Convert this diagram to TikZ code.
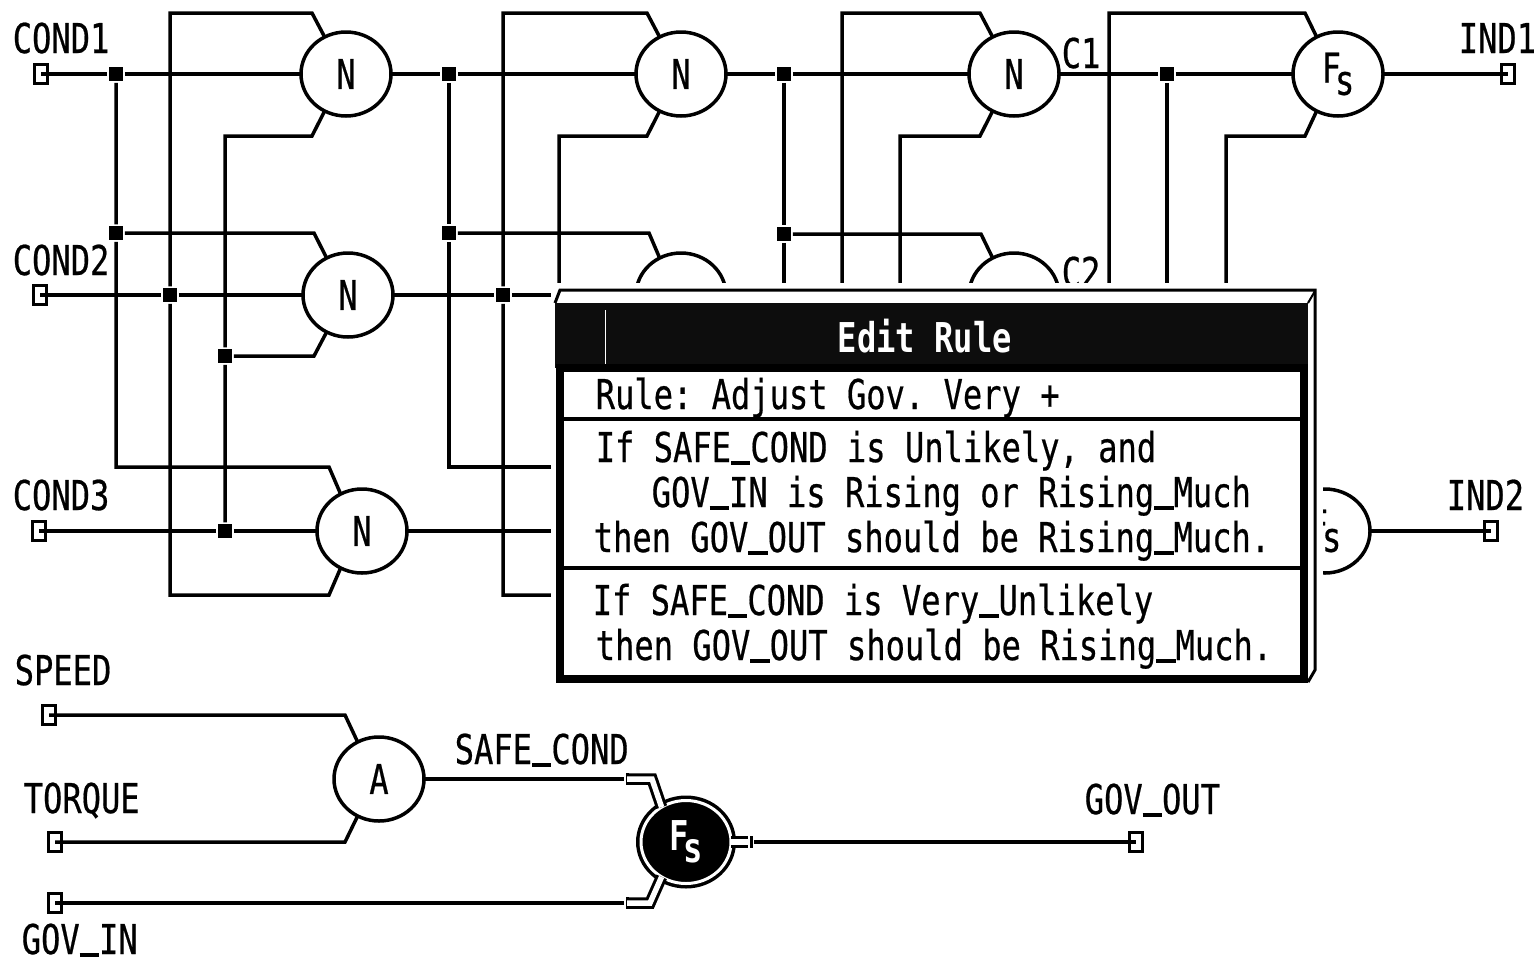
\documentclass[tikz,border=0pt]{standalone}
\usepackage{fontspec}
\usepackage{graphicx}
\usetikzlibrary{shapes.geometric}
\newfontfamily\bitfont[FakeBold=0.6]{DejaVu Sans Mono}
\newfontfamily\bitbold{DejaVu Sans Mono Bold}
\newcommand{\bitsize}{\fontsize{32.1}{38}\selectfont\frenchspacing}
\newcommand{\tall}[1]{\scalebox{1}[1.28]{#1}}
\newcommand{\fsub}{\tall{F\kern-6pt\raisebox{-9.5pt}{s}}}
\newcommand{\us}{\rule[-2.2pt]{19.33pt}{3.2pt}}
\tikzset{
    lbl/.style={font=\bitfont\bitsize, anchor=base west, inner sep=0pt, yscale=1.28, transform shape},
    gate/.style={ellipse, draw, fill=white, minimum width=90pt, minimum height=84pt, inner sep=0pt, outer sep=0pt, font=\bitfont\bitsize},
    fgate/.style={ellipse, draw, fill=black, double=white, double distance=3pt, minimum width=90pt, minimum height=83pt, inner sep=0pt, outer sep=0pt, text=white, font=\bitbold\bitsize},
    term/.style={rectangle, draw, line width=2.5pt, minimum width=13pt, minimum height=19pt, inner sep=0pt},
    jn/.style={rectangle, fill=black, minimum size=14pt, inner sep=0pt},
    stubcap/.style={rectangle, fill=black, minimum width=3pt, minimum height=12pt, inner sep=0pt},
    dbl/.style={line width=3pt, double=white, double distance=5.5pt}
}
\begin{document}
\begin{tikzpicture}[x=1pt,y=-1pt,line width=3.5pt]
    \useasboundingbox (0,0) rectangle (1538,959);

    % Ingressi e uscite
    \node[term] (tcond1) at (41,74) {};
    \node[term] (tcond2) at (40,295) {};
    \node[term] (tcond3) at (39,531) {};
    \node[term] (tind1) at (1508,74) {};
    \node[term] (tind2) at (1491,531) {};
    \node[term] (tspeed) at (49,715) {};
    \node[term] (ttorque) at (55,842) {};
    \node[term] (tgovin) at (55,903) {};
    \node[term] (tgovout) at (1136,842) {};

    % Porte
    \node[gate] (g1) at (346,74) {\tall{N}};
    \node[gate] (g2) at (348,295) {\tall{N}};
    \node[gate] (g3) at (362,531) {\tall{N}};
    \node[gate] (g4) at (681,74) {\tall{N}};
    \node[gate] (g5) at (681,295) {};
    \node[gate] (g6) at (1014,74) {\tall{N}};
    \node[gate] (g7) at (1014,295) {};
    \node[gate] (g8) at (1338,74) {\fsub};
    \node[gate] (g9) at (1325,531) {\fsub};
    \node[gate] (ga) at (379,779) {\tall{A}};
    \node[fgate] (gf) at (686,842) {\fsub};

    % Nodi di giunzione
    \node[jn] (j11) at (116,74) {};
    \node[jn] (j12) at (116,233) {};
    \node[jn] (j13) at (170,295) {};
    \node[jn] (j14) at (225,356) {};
    \node[jn] (j15) at (225,531) {};
    \node[jn] (j21) at (449,74) {};
    \node[jn] (j22) at (449,233) {};
    \node[jn] (j23) at (503,295) {};
    \node[jn] (j31) at (784,74) {};
    \node[jn] (j32) at (784,234) {};
    \node[jn] (j41) at (1167,74) {};

    % Prima colonna
    \coordinate (c1a) at (116,467);
    \coordinate (k3t) at (329,467);
    \coordinate (c1b) at (170,13);
    \coordinate (k1t) at (312,13);
    \coordinate (c1c) at (170,595);
    \coordinate (k3b) at (329,595);
    \coordinate (c1d) at (225,136);
    \coordinate (k1b) at (312,136);
    \coordinate (k2t) at (314,233);
    \coordinate (k2b) at (314,356);
    \draw (tcond1.center) -- (j11) -- (g1.west);
    \draw (tcond2.center) -- (j13) -- (g2.west);
    \draw (tcond3.center) -- (j15) -- (g3.west);
    \draw (j11) -- (j12) -- (c1a) -- (k3t) -- (g3.120);
    \draw (j12) -- (k2t) -- (g2.120);
    \draw (g1.120) -- (k1t) -- (c1b) -- (j13) -- (c1c) -- (k3b) -- (g3.240);
    \draw (g1.240) -- (k1b) -- (c1d) -- (j14) -- (j15);
    \draw (j14) -- (k2b) -- (g2.240);

    % Seconda colonna
    \coordinate (c2a) at (449,467);
    \coordinate (e2a) at (551,467);
    \coordinate (c2b) at (503,13);
    \coordinate (k4t) at (647,13);
    \coordinate (c2c) at (503,595);
    \coordinate (e2c) at (551,595);
    \coordinate (c2d) at (559,136);
    \coordinate (k4b) at (647,136);
    \coordinate (e2d) at (559,283);
    \coordinate (k5t) at (649,233);
    \coordinate (e2e) at (551,295);
    \coordinate (e2f) at (551,531);
    \draw (g1.east) -- (j21) -- (g4.west);
    \draw (j21) -- (j22) -- (c2a) -- (e2a);
    \draw (j22) -- (k5t) -- (g5.120);
    \draw (g4.120) -- (k4t) -- (c2b) -- (j23) -- (c2c) -- (e2c);
    \draw (g2.east) -- (j23) -- (e2e);
    \draw (g4.240) -- (k4b) -- (c2d) -- (e2d);
    \draw (g3.east) -- (e2f);

    % Terza colonna
    \coordinate (e3a) at (784,283);
    \coordinate (c3b) at (842,13);
    \coordinate (k6t) at (980,13);
    \coordinate (e3b) at (842,283);
    \coordinate (c3c) at (900,136);
    \coordinate (k6b) at (980,136);
    \coordinate (e3c) at (900,283);
    \coordinate (k7t) at (981,234);
    \draw (g4.east) -- (j31) -- (g6.west);
    \draw (j31) -- (j32) -- (e3a);
    \draw (j32) -- (k7t) -- (g7.120);
    \draw (g6.120) -- (k6t) -- (c3b) -- (e3b);
    \draw (g6.240) -- (k6b) -- (c3c) -- (e3c);

    % Quarta colonna
    \coordinate (c4a) at (1109,13);
    \coordinate (k8t) at (1305,13);
    \coordinate (e4a) at (1109,283);
    \coordinate (e4b) at (1167,283);
    \coordinate (c4c) at (1226,136);
    \coordinate (k8b) at (1305,136);
    \coordinate (e4c) at (1226,283);
    \draw (g6.east) -- (j41) -- (g8.west);
    \draw (j41) -- (e4b);
    \draw (g8.120) -- (k8t) -- (c4a) -- (e4a);
    \draw (g8.240) -- (k8b) -- (c4c) -- (e4c);
    \draw (g8.east) -- (tind1.center);
    \draw (g9.east) -- (tind2.center);

    % Parte inferiore
    \coordinate (kat) at (345,715);
    \coordinate (kab) at (345,842);
    \node[stubcap] (cp1) at (627,779) {};
    \node[stubcap] (cp2) at (627,903) {};
    \node[stubcap] (cp3) at (751,842) {};
    \coordinate (s1) at (627,779);
    \coordinate (s1k) at (652,779);
    \coordinate (s2) at (627,903);
    \coordinate (s2k) at (650,903);
    \draw (tspeed.center) -- (kat) -- (ga.120);
    \draw (ttorque.center) -- (kab) -- (ga.240);
    \draw (ga.east) -- (cp1);
    \draw (tgovin.center) -- (cp2);
    \draw (cp3) -- (tgovout.center);
    \draw[dbl] (s1) -- (s1k) -- (gf.125);
    \draw[dbl] (s2) -- (s2k) -- (gf.235);
    \draw[dbl] (gf.east) -- (cp3);

    % Etichette
    \node[lbl] (lcond1) at (11,53) {COND1};
    \node[lbl] (lcond2) at (11,275) {COND2};
    \node[lbl] (lcond3) at (11,510) {COND3};
    \node[lbl] (lc1) at (1060,68) {C1};
    \node[lbl] (lc2) at (1060,287) {C2};
    \node[lbl] (lind1) at (1457,53) {IND1};
    \node[lbl] (lind2) at (1445,510) {IND2};
    \node[lbl] (lspeed) at (13,685) {SPEED};
    \node[lbl] (ltorque) at (22,813) {TORQUE};
    \node[lbl] (lgovin) at (20,954) {GOV\us IN};
    \node[lbl] (lsafe) at (453,764) {SAFE\us COND};
    \node[lbl] (lgovout) at (1083,814) {GOV\us OUT};

    % Finestra Edit Rule
    \fill[white] (551,283) rectangle (1323,690);
    \draw[line width=3pt] (555,303) -- (560,290) -- (1315,290) -- (1315,670) -- (1308,682);
    \draw[line width=2pt] (1308,303) -- (1315,291);
    \fill[black!95] (555,303) rectangle (1308,368);
    \draw[white, line width=1pt] (605,310) -- (605,365);
    \draw[line width=8pt] (559.5,368) rectangle (1304,678.5);
    \draw[line width=4pt] (564,419) -- (1300,419);
    \draw[line width=4pt] (564,568) -- (1300,568);
    \node[lbl, text=white, font=\bitbold\bitsize] (ltitle) at (836,352) {Edit Rule};
    \node[lbl] (lrule) at (594,409) {Rule: Adjust Gov. Very +};
    \node[lbl] (la1) at (594,462) {If SAFE\us COND is Unlikely, and};
    \node[lbl] (la2) at (650,507) {GOV\us IN is Rising or Rising\us Much};
    \node[lbl] (la3) at (592,552) {then GOV\us OUT should be Rising\us Much.};
    \node[lbl] (lb1) at (591,615) {If SAFE\us COND is Very\us Unlikely};
    \node[lbl] (lb2) at (594,660) {then GOV\us OUT should be Rising\us Much.};
\end{tikzpicture}
\end{document}
